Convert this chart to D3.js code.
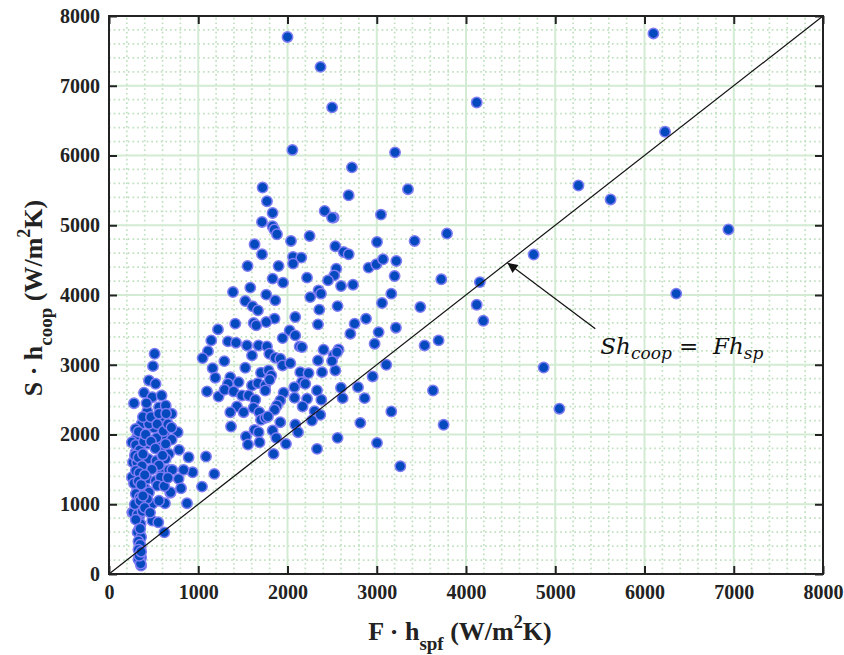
<!DOCTYPE html>
<html>
<head>
<meta charset="utf-8">
<script src="https://cdn.jsdelivr.net/npm/d3@7/dist/d3.min.js"></script>
<style>
  html, body { margin: 0; padding: 0; background: #fff; }
  svg { display: block; }
</style>
</head>
<body>
<svg id="chart" width="844" height="655"></svg>
<script>
// ---------------- DATA ----------------
const xTickValues = [0, 1000, 2000, 3000, 4000, 5000, 6000, 7000, 8000];
const yTickValues = [0, 1000, 2000, 3000, 4000, 5000, 6000, 7000, 8000];
const xTickLabels = ["0", "1000", "2000", "3000", "4000", "5000", "6000", "7000", "8000"];
const yTickLabels = ["0", "1000", "2000", "3000", "4000", "5000", "6000", "7000", "8000"];

// F·h_spf (x) values
const fhspf = [
  2000,2370,2500,2055,2722,3205,4120,6100,6230,5260,5620,6940,6356,4758,4155,4120,4194,4870,5046,
  3350,2685,2517,3047,3787,3003,3424,2536,2629,2685,2547,2524,2909,2995,3070,3219,
  3200,3723,2600,2734,3163,3059,3488,2561,2880,2752,3021,2704,3215,2976,3536,3693,2572,2517,2554,3107,2536,2954,2599,2790,2618,2864,3630,3163,2816,3749,2561,3003,3264,
  1721,1770,1833,1714,1833,1852,1882,2416,2499,2248,2039,1631,1714,2062,2155,2062,1553,1900,1833,1950,2219,2454,1583,1389,1762,1863,1527,1609,1669,2255,2348,2375,2356,2087,1855,1415,1221,1620,1650,1762,2342,
  2024,2087,1146,1333,1423,1546,1676,1770,1945,2136,2162,1109,1049,1292,1602,1796,1863,1919,1945,2031,2404,2342,2499,1161,1527,1703,1788,1819,2143,2236,2387,1191,1359,1452,1333,1602,1669,1751,1800,2162,2199,2076,2331,1098,1228,1295,1396,1490,1564,1639,1751,1956,2079,2219,2379,1919,1882,1855,1434,1359,1508,1620,1684,2169,2304,2367,2274,1703,1751,1781,1919,2087,1367,1631,1676,1833,2118,1535,1557,1687,1874,1983,2331,1844,1087,
  1180,1042,892,937,874,836,780,807,769,687,620,
  511,493,448,522,392,485,589,280,429,560,635,702,589,365,298,504,448,627,702,317,298,440,533,578,784,672,635,298,280,440,530,597,635,597,672,709,317,317,429,522,578,690,541,317,354,410,448,317,336,485,429,627,261,317,485,552,336,354,
  345,350,340,355,345,360,350,360,
  257,269,314,257,269,
  330,300,345,290,330,370,300,340,280,330,360,300,345,290,350,320,300,340,320,360,330,350,330,345,330,355,340,360,350,375,390,410,380,420,470,540,560,610,660,640,700,560,480,400,470,520,380,620,660,380,560,400,460,600
];
// S·h_coop (y) values
const shcoop = [
  7700,7270,6690,6080,5830,6045,6760,7750,6340,5570,5370,4940,4020,4580,4185,3860,3630,2960,2370,
  5517,5430,5110,5153,4881,4760,4775,4698,4617,4584,4378,4282,4393,4440,4512,4488,
  4272,4225,4128,4148,4019,3885,3827,3841,3660,3589,3468,3445,3531,3302,3277,3349,3220,3134,3181,3000,2918,2832,2670,2679,2521,2521,2631,2330,2167,2139,1952,1880,1545,
  5541,5344,5176,5047,4985,4938,4871,5205,5110,4846,4775,4727,4584,4545,4536,4450,4416,4416,4235,4177,4249,4210,4106,4042,4005,3923,3913,3837,3780,3970,4067,4019,3790,3684,3661,3589,3507,3598,3565,3612,3579,
  3493,3421,3349,3335,3316,3277,3277,3263,3382,3263,3253,3195,3095,3052,3134,3158,3101,3086,2990,3023,3216,3062,3052,2951,2957,2885,2918,2847,2894,2880,2894,2814,2822,2751,2727,2703,2736,2703,2785,2751,2727,2679,2631,2617,2545,2641,2617,2560,2560,2498,2631,2598,2526,2512,2498,2488,2416,2354,2402,2320,2320,2383,2320,2402,2334,2282,2201,2211,2239,2258,2176,2143,2114,2067,2033,2057,2033,1971,1856,1889,1952,1866,1794,1722,1684,
  1435,1253,1674,1459,1014,1493,1364,1229,2033,1163,597,
  3158,2980,2775,2727,2598,2535,2559,2449,2334,2392,2416,2297,2211,2153,2081,2096,2153,1985,1928,1961,1923,1866,1952,1817,1780,1722,1866,1746,1616,1651,1626,1698,1651,1493,1493,1493,1540,1411,1364,1339,1387,1171,1268,1220,1171,1220,1171,1052,980,1005,1077,1014,884,909,765,741,812,718,
  574,502,439,382,310,238,167,120,
  1889,1602,1602,1387,884,
  2040,1850,1780,1700,1670,1550,1480,1450,1300,1330,1280,1150,1100,1000,1050,850,780,650,600,530,470,420,350,280,210,150,260,320,650,900,1900,2000,2250,2450,2250,2150,2300,2050,2150,2300,2100,1560,1500,1420,1900,1800,1720,1260,1380,1120,1050,950,880,1700
];

// ---------------- CHART ----------------
const svg = d3.select("#chart");
const x = d3.scaleLinear().domain([0, 8000]).range([109, 823]);
const y = d3.scaleLinear().domain([0, 8000]).range([574, 16]);

const minorX = d3.range(0, 8001, 200).filter(v => v % 1000 !== 0);
const minorY = d3.range(0, 8001, 200).filter(v => v % 1000 !== 0);

const grid = svg.append("g");
// minor dotted grid
grid.selectAll(".mx").data(minorX).enter().append("line")
  .attr("x1", d => x(d)).attr("x2", d => x(d))
  .attr("y1", y(0)).attr("y2", y(8000))
  .attr("stroke", "#c0e1c0").attr("stroke-width", 1.7).attr("stroke-dasharray", "1.7,3");
grid.selectAll(".my").data(minorY).enter().append("line")
  .attr("y1", d => y(d)).attr("y2", d => y(d))
  .attr("x1", x(0)).attr("x2", x(8000))
  .attr("stroke", "#c0e1c0").attr("stroke-width", 1.7).attr("stroke-dasharray", "1.7,3");
// major grid
grid.selectAll(".Mx").data(xTickValues.slice(1, -1)).enter().append("line")
  .attr("x1", d => x(d)).attr("x2", d => x(d))
  .attr("y1", y(0)).attr("y2", y(8000))
  .attr("stroke", "#d2ebd2").attr("stroke-width", 2);
grid.selectAll(".My").data(yTickValues.slice(1, -1)).enter().append("line")
  .attr("y1", d => y(d)).attr("y2", d => y(d))
  .attr("x1", x(0)).attr("x2", x(8000))
  .attr("stroke", "#d2ebd2").attr("stroke-width", 2);

// points
const pts = fhspf.map((v, i) => ({ x: v, y: shcoop[i] }));
svg.append("g").selectAll("circle").data(pts).enter().append("circle")
  .attr("cx", d => x(d.x)).attr("cy", d => y(d.y)).attr("r", 5.2)
  .attr("fill", "#0549bf").attr("stroke", "#807cf3").attr("stroke-width", 1.5);

// diagonal y = x
svg.append("line")
  .attr("x1", x(0)).attr("y1", y(0)).attr("x2", x(8000)).attr("y2", y(8000))
  .attr("stroke", "#111").attr("stroke-width", 1.2);

// axes
const fontFam = "'Liberation Serif', 'Times New Roman', serif";
const xAxis = svg.append("g").attr("transform", `translate(0,${y(0)})`)
  .call(d3.axisBottom(x).tickValues(xTickValues).tickFormat((d, i) => xTickLabels[i])
    .tickSizeInner(-8).tickSizeOuter(0).tickPadding(11));
const yAxis = svg.append("g").attr("transform", `translate(${x(0)},0)`)
  .call(d3.axisLeft(y).tickValues(yTickValues).tickFormat((d, i) => yTickLabels[i])
    .tickSizeInner(-8).tickSizeOuter(0).tickPadding(9));
const xTop = svg.append("g").attr("transform", `translate(0,${y(8000)})`)
  .call(d3.axisTop(x).tickValues(xTickValues).tickFormat("").tickSizeInner(-8).tickSizeOuter(0));
const yRight = svg.append("g").attr("transform", `translate(${x(8000)},0)`)
  .call(d3.axisRight(y).tickValues(yTickValues).tickFormat("").tickSizeInner(-8).tickSizeOuter(0));
[xAxis, yAxis, xTop, yRight].forEach(g => {
  g.select(".domain").remove();
  g.selectAll(".tick line").attr("stroke", "#222").attr("stroke-width", 2);
  g.selectAll("text").attr("font-family", fontFam).attr("font-weight", "bold")
    .attr("font-size", 20).attr("fill", "#222");
});

// frame
svg.append("rect")
  .attr("x", x(0)).attr("y", y(8000))
  .attr("width", x(8000) - x(0)).attr("height", y(0) - y(8000))
  .attr("fill", "none").attr("stroke", "#222").attr("stroke-width", 2);

// x title
const xt = svg.append("text").attr("x", 460).attr("y", 640).attr("text-anchor", "middle")
  .attr("font-family", fontFam).attr("font-weight", "bold").attr("font-size", 26).attr("fill", "#222");
xt.append("tspan").text("F · h");
xt.append("tspan").attr("dy", 10).attr("font-size", 19).text("spf");
xt.append("tspan").attr("dy", -10).text(" (W/m");
xt.append("tspan").attr("dy", -12).attr("font-size", 18).text("2");
xt.append("tspan").attr("dy", 12).text("K)");

// y title
const yt = svg.append("text").attr("transform", "translate(42,298) rotate(-90)").attr("text-anchor", "middle")
  .attr("font-family", fontFam).attr("font-weight", "bold").attr("font-size", 26).attr("fill", "#222");
yt.append("tspan").text("S · h");
yt.append("tspan").attr("dy", 10).attr("font-size", 19).text("coop");
yt.append("tspan").attr("dy", -10).text(" (W/m");
yt.append("tspan").attr("dy", -12).attr("font-size", 18).text("2");
yt.append("tspan").attr("dy", 12).text("K)");

// annotation arrow
const defs = svg.append("defs");
defs.append("marker").attr("id", "ah").attr("viewBox", "0 0 10 10")
  .attr("refX", 10).attr("refY", 5).attr("markerWidth", 14).attr("markerHeight", 10)
  .attr("markerUnits", "userSpaceOnUse").attr("orient", "auto")
  .append("path").attr("d", "M0,0 L10,5 L0,10 z").attr("fill", "#111");
svg.append("line")
  .attr("x1", x(5449)).attr("y1", y(3517)).attr("x2", x(4465)).attr("y2", y(4460))
  .attr("stroke", "#111").attr("stroke-width", 1.3).attr("marker-end", "url(#ah)");

const ann = svg.append("text").attr("x", x(5505)).attr("y", y(3160))
  .attr("font-family", "'DejaVu Serif', serif").attr("font-style", "italic")
  .attr("font-size", 23).attr("fill", "#111").attr("xml:space", "preserve")
  .style("white-space", "pre");
ann.append("tspan").text("Sh");
ann.append("tspan").attr("dy", 5).attr("font-size", 17).text("coop");
ann.append("tspan").attr("dy", -5).text(" =  Fh");
ann.append("tspan").attr("dy", 5).attr("font-size", 17).text("sp");
</script>
</body>
</html>
